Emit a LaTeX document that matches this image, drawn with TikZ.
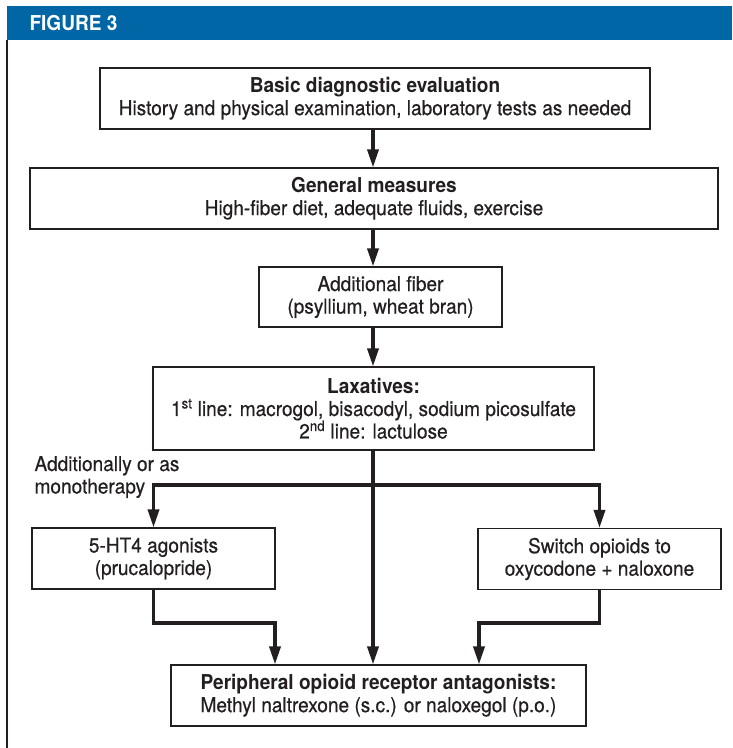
\documentclass[tikz,border=0pt]{standalone}
\usepackage{fontspec}
\setmainfont{TeX Gyre Heros}[FakeStretch=0.93, UprightFeatures={FakeBold=0.5}]
\usetikzlibrary{arrows.meta}
\definecolor{bluetitolo}{RGB}{0,102,166}
\definecolor{inchiostro}{RGB}{35,31,32}

\begin{document}
\begin{tikzpicture}[x=1pt, y=-1pt,
    font=\fontsize{20.5}{22.5}\selectfont, text=inchiostro,
    riquadro/.style={draw=inchiostro, line width=1.1pt, align=center,
      inner sep=0pt, minimum height=61pt},
    freccia/.style={draw=inchiostro, line width=3.4pt,
      -{Triangle[length=18pt, width=11pt]}}]
  \useasboundingbox (0,0) rectangle (732,748);

  % intestazione
  \fill[bluetitolo] (7,6) rectangle (732,40);
  \node[anchor=west, text=white, font=\fontsize{20.5}{22}\selectfont\bfseries]
    (titolo) at (26,23) {FIGURE 3};
  \draw[inchiostro, line width=2pt] (7,40) -- (7,748);

  % riquadri
  \node[riquadro, minimum width=550pt] (base) at (375,98.5)
    {\textbf{Basic diagnostic evaluation}\\
     History and physical examination, laboratory tests as needed};
  \node[riquadro, minimum width=688pt] (generali) at (374,198.5)
    {\textbf{General measures}\\
     High-fiber diet, adequate fluids, exercise};
  \node[riquadro, minimum width=243pt, minimum height=60pt] (fibra) at (380.5,297)
    {Additional fiber\\(psyllium, wheat bran)};
  \node[riquadro, minimum width=441pt, minimum height=83pt] (lassativi) at (373.5,408.5)
    {\textbf{Laxatives:}\\
     1\textsuperscript{st} line: macrogol, bisacodyl, sodium picosulfate\\
     2\textsuperscript{nd} line: lactulose};
  \node[riquadro, minimum width=243pt] (procinetici) at (153.5,558.5)
    {5-HT4 agonists\\(prucalopride)};
  \node[riquadro, minimum width=243pt] (cambio) at (599.5,559)
    {Switch opioids to\\oxycodone + naloxone};
  \node[riquadro, minimum width=415pt] (antagonisti) at (378.5,695.5)
    {\textbf{Peripheral opioid receptor antagonists:}\\
     Methyl naltrexone (s.c.) or naloxegol (p.o.)};
  \node[anchor=west, align=left] (nota) at (31,477)
    {Additionally or as\\monotherapy};

  % punti di snodo
  \coordinate (asse) at (373,0);
  \coordinate (bivio) at (373,485);
  \coordinate (sx) at (275,623);
  \coordinate (dx) at (479,623);

  % frecce
  \draw[freccia] (base.south -| asse) -- (generali.north -| asse);
  \draw[freccia] (generali.south -| asse) -- (fibra.north -| asse);
  \draw[freccia] (fibra.south -| asse) -- (lassativi.north -| asse);
  \draw[freccia] (lassativi.south -| asse) -- (antagonisti.north -| asse);
  \draw[freccia] (bivio) -| (procinetici.north);
  \draw[freccia] (bivio) -| (cambio.north);
  \draw[freccia] (procinetici.south) |- (sx) -- (antagonisti.north -| sx);
  \draw[freccia] (cambio.south) |- (dx) -- (antagonisti.north -| dx);
\end{tikzpicture}
\end{document}
